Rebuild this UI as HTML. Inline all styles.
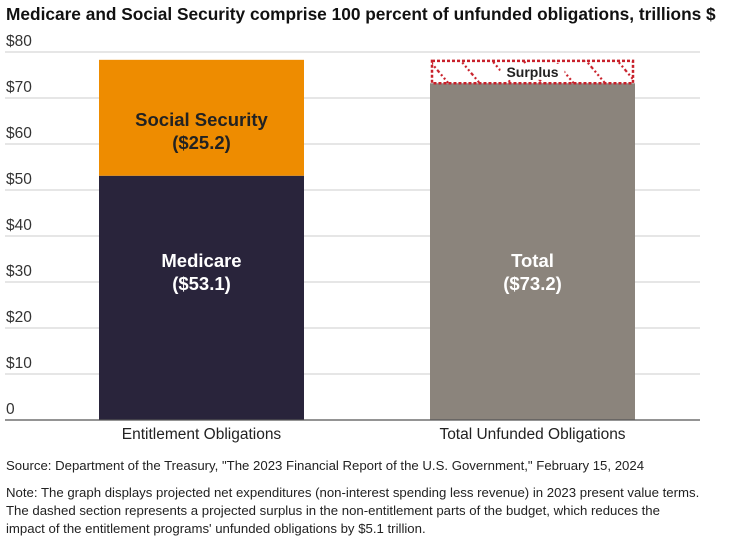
<!DOCTYPE html>
<html><head><meta charset="utf-8"><style>
body{margin:0;background:#fff;font-family:"Liberation Sans",sans-serif;}
svg text{font-family:"Liberation Sans",sans-serif;}
</style></head><body>
<svg width="735" height="550" xmlns="http://www.w3.org/2000/svg">
<defs>
<pattern id="hatch" patternUnits="userSpaceOnUse" width="24" height="24" patternTransform="rotate(-40)">
<line x1="2" y1="0" x2="2" y2="24" stroke="#c8202a" stroke-width="2.2" stroke-dasharray="2,2.5"/>
</pattern>
</defs>
<text x="6" y="20" font-size="17.3" font-weight="bold" fill="#111">Medicare and Social Security comprise 100 percent of unfunded obligations, trillions $</text>
<g id="grid"></g>
<g id="bars"></g>
<text x="6" y="470" font-size="13.2" fill="#222">Source: Department of the Treasury, "The 2023 Financial Report of the U.S. Government," February 15, 2024</text>
<g font-size="13.2" fill="#222">
<text x="6" y="497">Note: The graph displays projected net expenditures (non-interest spending less revenue) in 2023 present value terms.</text>
<text x="6" y="515">The dashed section represents a projected surplus in the non-entitlement parts of the budget, which reduces the</text>
<text x="6" y="533">impact of the entitlement programs' unfunded obligations by $5.1 trillion.</text>
</g>
</svg>
<script>
const ticks=[0,10,20,30,40,50,60,70,80];
const tickLabels=["0","$10","$20","$30","$40","$50","$60","$70","$80"];
const categories=["Entitlement Obligations","Total Unfunded Obligations"];
const medicare=53.1, socialSecurity=25.2, total=73.2, surplus=5.1;
const NS="http://www.w3.org/2000/svg";
const y=v=>420-v*4.6;
const xL=[99,430], bw=205;
function mk(tag,attrs,parent,txt){const e=document.createElementNS(NS,tag);for(const k in attrs)e.setAttribute(k,attrs[k]);if(txt!==undefined)e.textContent=txt;parent.appendChild(e);return e;}
const grid=document.getElementById('grid'), bars=document.getElementById('bars');
ticks.forEach((t,i)=>{
 if(t>0){const l=mk('line',{x1:5,x2:700,y1:y(t),y2:y(t),stroke:'#d6d6d6','stroke-width':1.2},grid);
 
 }
 const tx=mk('text',{x:6,y:y(t)-6,'font-size':15.5,fill:'#333'},grid,tickLabels[i]);
 
 
});
function rect(x,v0,v1,fill,name){const r=mk('rect',{x:x,y:y(v1),width:bw,height:y(v0)-y(v1),fill:fill},bars);
 
 return r;}
rect(xL[0],0,medicare,'#29243b','bar-medicare');
rect(xL[0],medicare,medicare+socialSecurity,'#ee8c00','bar-social-security');
rect(xL[1],0,total,'#8b847c','bar-total');
const s=mk('rect',{x:xL[1]+2,y:y(total+surplus)+1,width:bw-4,height:y(total)-y(total+surplus)-1,fill:'url(#hatch)',stroke:'#c8202a','stroke-width':2.5,'stroke-dasharray':'3,2'},bars);


const st=mk('rect',{x:xL[1]+bw/2-32,y:y(total+surplus)+4,width:64,height:16,fill:'#fff'},bars);


const sl=mk('text',{x:xL[1]+bw/2,y:y(total+surplus)+17,'font-size':14,'font-weight':'bold',fill:'#222','text-anchor':'middle'},bars,'Surplus');


function lab(x,v,l1,l2,col,name){const cx=x+bw/2;
 const a=mk('text',{x:cx,y:y(v)-4,'font-size':18.5,'font-weight':'bold',fill:col,'text-anchor':'middle'},bars,l1);
 
 
 const b=mk('text',{x:cx,y:y(v)+19,'font-size':18.5,'font-weight':'bold',fill:col,'text-anchor':'middle'},bars,l2);
 
 }
lab(xL[0],medicare/2+5.85,'Medicare','($'+medicare.toFixed(1)+')','#fff','medicare-label');
lab(xL[0],medicare+socialSecurity/2-2.7,'Social Security','($'+socialSecurity.toFixed(1)+')','#222','social-security-label');
lab(xL[1],total/2-4.2,'Total','($'+total.toFixed(1)+')','#fff','total-label');
const ax=mk('line',{x1:5,x2:700,y1:420,y2:420,stroke:'#555','stroke-width':1.2},bars);


categories.forEach((c,i)=>{const t=mk('text',{x:xL[i]+bw/2,y:439,'font-size':15.5,fill:'#222','text-anchor':'middle'},bars,c);
 
 });
</script>
</body></html>
